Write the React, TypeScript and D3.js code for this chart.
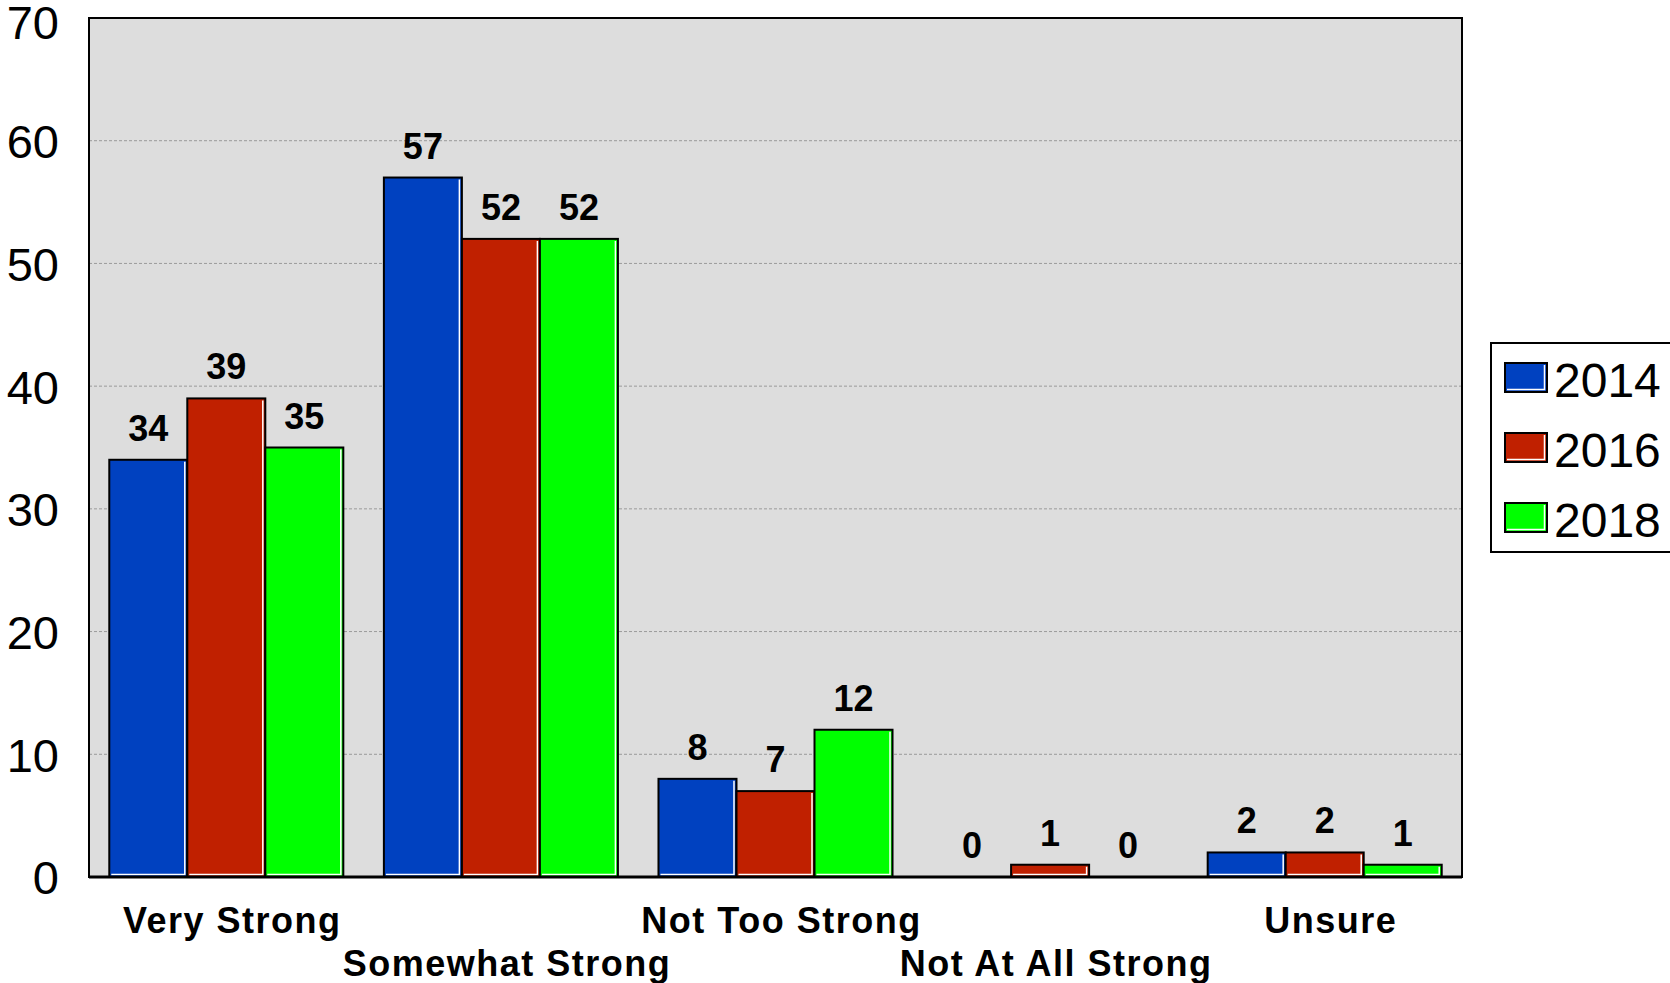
import * as d3 from 'd3';

const categories = ['Very Strong', 'Somewhat Strong', 'Not Too Strong', 'Not At All Strong', 'Unsure'];
const years = ['2014', '2016', '2018'];
const values2014 = [34, 57, 8, 0, 2];
const values2016 = [39, 52, 7, 1, 2];
const values2018 = [35, 52, 12, 0, 1];
const yTicks = [0, 10, 20, 30, 40, 50, 60, 70];
const colors = ['#0041c0', '#c02000', '#00ff00'];

const W = 1670;
const H = 983;
const plot = { left: 89, right: 1462, top: 18, bottom: 877 };

export default function App() {
  const series = [values2014, values2016, values2018];

  const y = d3.scaleLinear().domain([0, 70]).range([plot.bottom, plot.top]);
  const x0 = d3.scaleBand<string>().domain(categories).range([plot.left, plot.right]).padding(0);
  const x1 = d3.scaleBand<string>().domain(years).range([0, x0.bandwidth()]).paddingInner(0).paddingOuter(0.26);
  const font = '"Liberation Sans", Arial, sans-serif';

  return (
    <svg width={W} height={H} style={{ position: 'absolute', left: 0, top: 0, background: '#fff' }}>
      <rect x={plot.left} y={plot.top} width={plot.right - plot.left} height={plot.bottom - plot.top} fill="#dddddd" />
      {yTicks.filter(t => t > 0 && t < 70).map(t => (
        <line key={'g' + t} x1={plot.left} x2={plot.right} y1={y(t)} y2={y(t)} stroke="#9a9a9a" strokeWidth={1} strokeDasharray="3,2" />
      ))}
      <rect x={plot.left} y={plot.top} width={plot.right - plot.left} height={plot.bottom - plot.top} fill="none" stroke="#000" strokeWidth={2} />

      {categories.map((c, ci) => (
        <g key={c}>
          {years.map((yr, si) => {
            const v = series[si][ci];
            const bx = (x0(c) ?? 0) + (x1(yr) ?? 0);
            const bw = x1.bandwidth();
            const top = y(v);
            const h = y(0) - top;
            return (
              <g key={yr}>
                <rect x={bx} y={top} width={bw} height={h} fill={colors[si]} stroke="#000" strokeWidth={2} />
                {h > 4 && (
                  <polyline
                    points={`${bx + bw - 2.5},${top + 2} ${bx + bw - 2.5},${y(0) - 2.5} ${bx + 2},${y(0) - 2.5}`}
                    fill="none" stroke="#fff" strokeWidth={1.5}
                  />
                )}
                <text x={bx + bw / 2} y={top - 19} textAnchor="middle" fontFamily={font} fontWeight="bold" fontSize={36} fill="#000">
                  {v}
                </text>
              </g>
            );
          })}
        </g>
      ))}

      <line x1={plot.left} x2={plot.right} y1={plot.bottom} y2={plot.bottom} stroke="#000" strokeWidth={3} />

      {yTicks.map(t => (
        <text key={'t' + t} x={59} y={y(t)} dy={t === 70 ? '0.44em' : '0.37em'} textAnchor="end" fontFamily={font} fontSize={47} fill="#000">
          {t}
        </text>
      ))}

      {categories.map((c, ci) => (
        <text
          key={'l' + c}
          x={(x0(c) ?? 0) + x0.bandwidth() / 2 + 6}
          y={ci % 2 === 0 ? 933 : 976}
          textAnchor="middle"
          fontFamily={font}
          fontWeight="bold"
          fontSize={36}
          letterSpacing={1.5}
          fill="#000"
        >
          {c}
        </text>
      ))}

      <rect x={1491} y={343} width={200} height={209} fill="#fff" stroke="#000" strokeWidth={2} />
      {years.map((yr, i) => (
        <g key={'lg' + yr} transform={`translate(1505, ${363 + i * 70})`}>
          <rect x={0} y={0} width={42} height={29} fill={colors[i]} stroke="#000" strokeWidth={2} />
          <polyline points="39.5,2 39.5,26.5 2,26.5" fill="none" stroke="#fff" strokeWidth={1.5} />
          <text x={49} y={34} fontFamily={font} fontSize={48} fill="#000">{yr}</text>
        </g>
      ))}
    </svg>
  );
}
